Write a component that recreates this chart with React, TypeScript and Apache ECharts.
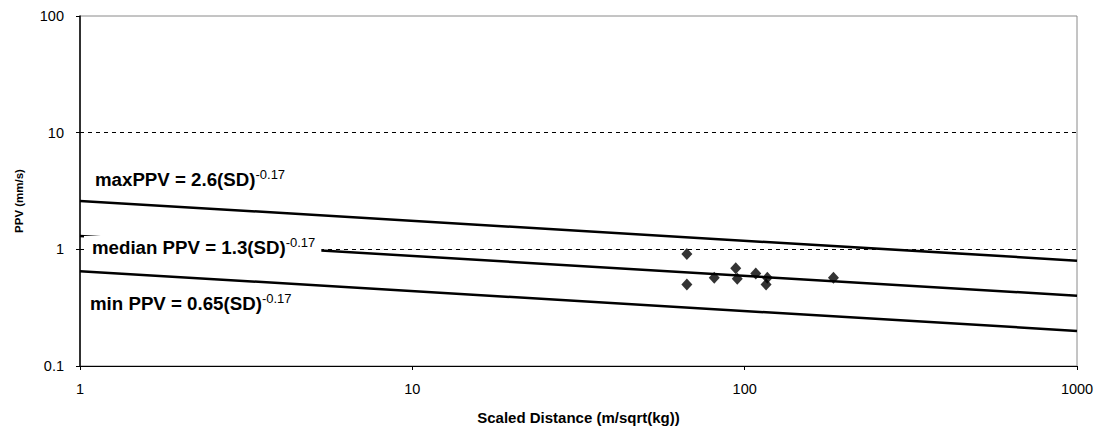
import React, { useEffect, useRef } from "react";
import * as echarts from "echarts";

// Fitted power-law lines: endpoints at SD = 1 and SD = 1000
const sdLine = [1, 1000];
const maxPPV = [2.6, 0.8];
const medianPPV = [1.3, 0.4];
const minPPV = [0.65, 0.2];

// Observed data points
const obsSD = [67, 67, 81, 94, 95, 108, 117, 116, 185];
const obsPPV = [0.91, 0.5, 0.57, 0.69, 0.56, 0.62, 0.57, 0.5, 0.57];

// Dashed guide lines
const guideLines = [1, 10];

const xTickLabels = ["1", "10", "100", "1000"];
const yTickLabels = ["0.1", "1", "10", "100"];

const FONT = "'Liberation Sans', Arial, sans-serif";

export default function App() {
  const ref = useRef<HTMLDivElement>(null);
  useEffect(() => {
    if (!ref.current) return;
    const chart = echarts.init(ref.current, null, { renderer: "svg" });
    const lineStyle = { color: "#000", width: 2.5 };
    const mkLine = (name: string, vals: number[]) => ({
      name,
      type: "line",
      data: sdLine.map((x, i) => [x, vals[i]]),
      symbol: "none",
      lineStyle,
      z: 3,
    });
    const eq = (main: string) => `{a|${main}}{b|-0.17}`;
    const rich = {
      a: { fontFamily: FONT, fontWeight: "bold", fontSize: 18.7, color: "#000", lineHeight: 20 },
      b: { fontFamily: FONT, fontSize: 13, color: "#000", padding: [0, 0, 9, 0], lineHeight: 20 },
    };
    chart.setOption({
      animation: false,
      backgroundColor: "#fff",
      grid: {
        left: 80,
        right: 23,
        top: 16,
        bottom: 65,
        show: true,
        borderColor: "#8a8a8a",
        borderWidth: 1,
      },
      xAxis: {
        type: "log",
        logBase: 10,
        min: 1,
        max: 1000,
        name: "Scaled Distance (m/sqrt(kg))",
        nameLocation: "middle",
        nameGap: 44,
        nameTextStyle: { fontFamily: FONT, fontWeight: "bold", fontSize: 15, color: "#000" },
        axisLine: { show: true, lineStyle: { color: "#000", width: 1 } },
        axisTick: { show: true, inside: false, length: 4, lineStyle: { color: "#000" } },
        axisLabel: {
          fontFamily: FONT,
          fontSize: 14.5,
          color: "#000",
          margin: 15,
          formatter: (v: number) => xTickLabels[Math.round(Math.log10(v))] ?? "",
        },
        splitLine: { show: false },
      },
      yAxis: {
        type: "log",
        logBase: 10,
        min: 0.1,
        max: 100,
        name: "PPV (mm/s)",
        nameLocation: "middle",
        nameGap: 55,
        nameTextStyle: {
          fontFamily: FONT,
          fontWeight: "bold",
          fontSize: 11.5,
          color: "#000",
          padding: [0, 20, 0, 0],
        },
        axisLine: { show: true, lineStyle: { color: "#000", width: 1.5 } },
        axisTick: { show: true, length: 4, lineStyle: { color: "#000" } },
        axisLabel: {
          fontFamily: FONT,
          fontSize: 14.5,
          color: "#000",
          margin: 16,
          formatter: (v: number) => yTickLabels[Math.round(Math.log10(v)) + 1] ?? "",
        },
        splitLine: { show: false },
      },
      series: [
        {
          name: "guides",
          type: "line",
          data: [],
          markLine: {
            silent: true,
            symbol: "none",
            label: { show: false },
            lineStyle: { color: "#000", width: 1, type: [4, 4] },
            data: guideLines.map((v) => ({ yAxis: v })),
          },
          z: 1,
        },
        mkLine("max", maxPPV),
        mkLine("median", medianPPV),
        mkLine("min", minPPV),
        {
          name: "observed",
          type: "scatter",
          data: obsSD.map((x, i) => [x, obsPPV[i]]),
          symbol: "diamond",
          symbolSize: [11, 12],
          itemStyle: { color: "#000" },
          z: 4,
        },
      ],
      graphic: [
        {
          type: "text",
          z: 100,
          x: 95,
          y: 169,
          style: { text: eq("maxPPV = 2.6(SD)"), rich, verticalAlign: "top" },
        },
        {
          type: "text",
          z: 100,
          x: 84,
          y: 236,
          style: {
            text: eq("median PPV = 1.3(SD)"),
            rich,
            verticalAlign: "top",
            backgroundColor: "#fff",
            padding: [1, 6, 8, 8],
          },
        },
        {
          type: "text",
          z: 100,
          x: 90,
          y: 293,
          style: { text: eq("min PPV = 0.65(SD)"), rich, verticalAlign: "top" },
        },
      ],
    });
    return () => chart.dispose();
  }, []);
  return (
    <div
      ref={ref}
      style={{ position: "fixed", left: 0, top: 0, width: 1100, height: 431, background: "#fff" }}
    />
  );
}
